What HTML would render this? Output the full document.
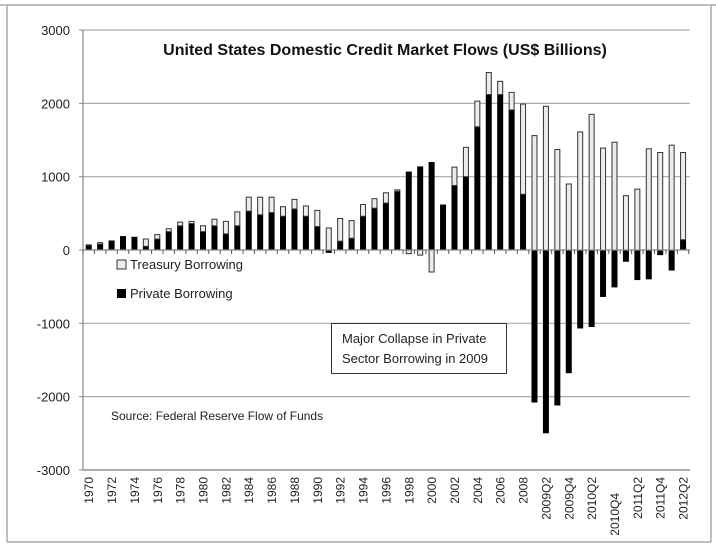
<!DOCTYPE html>
<html><head><meta charset="utf-8"><style>
html,body{margin:0;padding:0;background:#fff;}
svg{display:block;font-family:"Liberation Sans",sans-serif;}
</style></head><body>
<svg id="c" width="716" height="546" viewBox="0 0 716 546" xmlns="http://www.w3.org/2000/svg">
<rect x="0" y="0" width="716" height="546" fill="#fff"/>
<line x1="0" y1="5" x2="716" y2="5" stroke="#aaa" stroke-width="1.5"/>
<line x1="7" y1="5" x2="7" y2="542" stroke="#aaa" stroke-width="1.5"/>
<line x1="711" y1="5" x2="711" y2="542" stroke="#aaa" stroke-width="1.5"/>
<line x1="7" y1="542" x2="711" y2="542" stroke="#aaa" stroke-width="1.5"/>
<g id="grid"></g>
<g id="bars"></g>
<g id="axes"></g>
<text x="385" y="55" text-anchor="middle" font-family="Liberation Sans, sans-serif" font-weight="bold" font-size="16" fill="#111">United States Domestic Credit Market Flows (US$ Billions)</text>
<rect x="117" y="260" width="9" height="9" fill="#eee" stroke="#333" stroke-width="1"/>
<text x="130" y="269" font-size="13" fill="#222">Treasury Borrowing</text>
<rect x="117" y="289" width="9" height="9" fill="#000"/>
<text x="130" y="298" font-size="13" fill="#222">Private  Borrowing</text>
<rect x="331.5" y="323.5" width="175" height="50" fill="#fff" stroke="#333" stroke-width="1"/>
<text x="342" y="343" font-size="13" fill="#222">Major Collapse in Private</text>
<text x="342" y="363" font-size="13" fill="#222">Sector Borrowing in 2009</text>
<text x="111" y="420" font-size="12" fill="#222">Source:  Federal Reserve Flow of Funds</text>
</svg>
<script>
var NS="http://www.w3.org/2000/svg";
function el(p,t,a,txt){var e=document.createElementNS(NS,t);for(var k in a)e.setAttribute(k,a[k]);if(txt!=null)e.textContent=txt;p.appendChild(e);return e;}
var y0=250,s=73.33/1000,L=83,W=11.43;
function Y(v){return y0-v*s;}
var grid=document.getElementById("grid"),bars=document.getElementById("bars"),ax=document.getElementById("axes");
[3000,2000,1000,-1000,-2000,-3000].forEach(function(v){el(grid,"line",{x1:L,x2:690,y1:Y(v),y2:Y(v),stroke:"#aaa","stroke-width":1.2});});
[3000,2000,1000,0,-1000,-2000,-3000].forEach(function(v){el(ax,"text",{x:70,y:Y(v)+5,"text-anchor":"end","font-size":"13",fill:"#222"},String(v));el(ax,"line",{x1:79,x2:L,y1:Y(v),y2:Y(v),stroke:"#888"});});
var d=[[65,5],[80,20],[130,0],[190,0],[180,0],[50,100],[150,60],[250,40],[330,50],[360,30],[250,80],[330,90],[220,170],[330,190],[530,190],[480,240],[510,210],[460,130],[560,130],[460,140],[320,220],[-40,300],[120,310],[160,240],[460,160],[570,130],[640,140],[800,20],[1070,-50],[1140,-70],[1200,-300],[620,0],[880,250],[1000,400],[1680,350],[2120,300],[2120,180],[1910,240],[760,1230],
[-2080,1560],[-2500,1960],[-2120,1370],[-1680,900],[-1070,1610],[-1050,1850],[-640,1390],[-510,1470],[-160,740],[-410,830],[-400,1380],[-70,1330],[-280,1430],[140,1190]];
var bw=6;
d.forEach(function(p,i){
 var cx=L+W*(i+0.5),x=cx-bw/2,pr=p[0],tr=p[1];
 el(bars,"rect",{x:x,y:Math.min(Y(0),Y(pr)),width:bw,height:Math.abs(pr*s),fill:"#000"});
 var base=(pr>0&&tr>0)?pr:0;
 if(tr!==0){var a=Y(base),b=Y(base+tr);el(bars,"rect",{x:x+0.5,y:Math.min(a,b),width:bw-1,height:Math.abs(a-b),fill:"#ececec",stroke:"#333","stroke-width":1});}
});
el(ax,"line",{x1:L,x2:L,y1:Y(3000),y2:Y(-3000),stroke:"#888","stroke-width":1.2});
el(ax,"line",{x1:L,x2:690,y1:y0,y2:y0,stroke:"#888","stroke-width":1.2});
el(ax,"line",{x1:L,x2:690,y1:Y(-3000),y2:Y(-3000),stroke:"#888","stroke-width":1.2});
for(var i=0;i<=53;i++){var tx=L+W*i;el(ax,"line",{x1:tx,x2:tx,y1:y0,y2:y0+4,stroke:"#555"});}
var labs=[];for(var yr=1970;yr<=2008;yr+=2)labs.push([(yr-1970),String(yr),0]);
labs.push([40,"2009Q2",0],[42,"2009Q4",0],[44,"2010Q2",0],[46,"2010Q4",16],[48,"2011Q2",0],[50,"2011Q4",0],[52,"2012Q2",0]);
labs.forEach(function(l){var cx=L+W*(l[0]+0.5)+4.5,ty=477+l[2];
 el(ax,"text",{x:0,y:0,"text-anchor":"end","font-size":"12",fill:"#222",transform:"translate("+cx+","+ty+") rotate(-90)"},l[1]);});
</script>
</body></html>
